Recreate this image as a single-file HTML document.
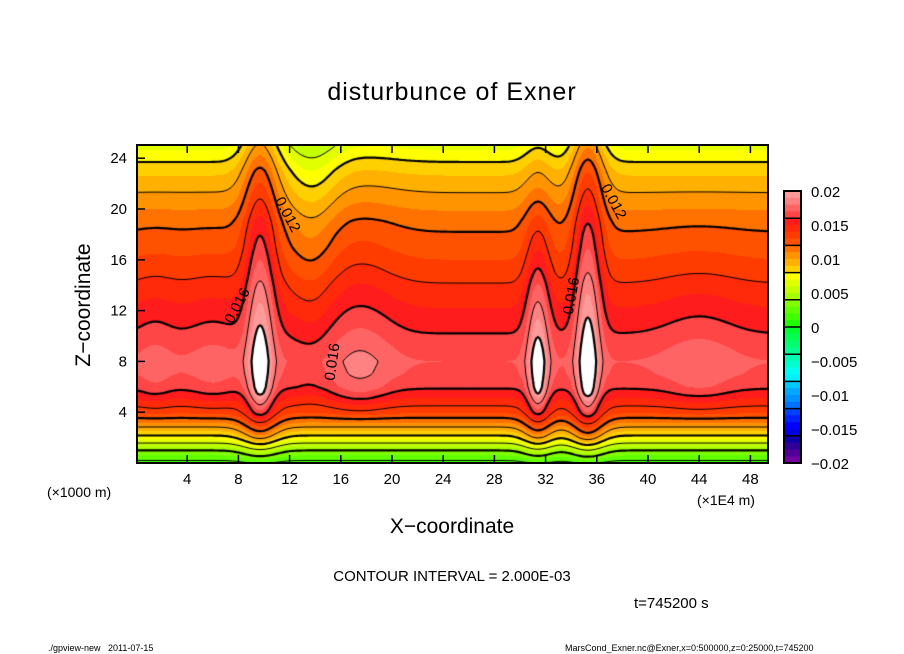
<!DOCTYPE html>
<html><head><meta charset="utf-8"><style>
body{margin:0;background:#fff;width:904px;height:654px;overflow:hidden;position:relative;font-family:"Liberation Sans","DejaVu Sans",sans-serif}
.t{position:absolute;white-space:nowrap;color:#000}
</style></head><body>
<div class="t" style="left:0;width:904px;text-align:center;top:78px;font-size:25px;letter-spacing:1px">disturbunce of Exner</div>
<canvas id="plot" width="632" height="318" style="position:absolute;left:137px;top:145px"></canvas>
<svg id="ov" width="904" height="654" style="position:absolute;left:0;top:0"></svg>
<div class="t" style="left:84px;top:305px;font-size:21px;transform:translate(-50%,-50%) rotate(-90deg)">Z−coordinate</div>
<div class="t" style="left:47px;top:484px;font-size:14px">(×1000 m)</div>
<div class="t" style="left:697px;top:492px;font-size:14px">(×1E4 m)</div>
<div class="t" style="left:0;width:904px;text-align:center;top:515px;font-size:21px">X−coordinate</div>
<div class="t" style="left:0;width:904px;text-align:center;top:568px;font-size:15px">CONTOUR INTERVAL = 2.000E-03</div>
<div class="t" style="left:634px;top:595px;font-size:15px">t=745200 s</div>
<div class="t" style="left:48px;top:643px;font-size:9px">./gpview-new &nbsp; 2011-07-15</div>
<div class="t" style="left:565px;top:643px;font-size:9px">MarsCond_Exner.nc@Exner,x=0:500000,z=0:25000,t=745200</div>
<script>
// vertical profile (z = 0..25)
const profile=[0.0015,0.004,0.0075,0.0105,0.0132,0.0148,0.0162,0.0168,0.017,0.0166,0.0161,0.0156,0.0151,0.0146,0.0141,0.0135,0.013,0.0125,0.0121,0.0116,0.0109,0.0102,0.0095,0.0087,0.0077,0.0066];
// localized features: x center, x width, amplitude low(z~8), amplitude high(z~22), bottom bump
const featX=[9.7,31.4,35.3,13.8,17.5,44,1.5,6];
const featW=[1.1,0.9,1.0,1.6,2.6,3,1.5,2];
const featAmpLow=[0.0045,0.0043,0.0048,-0.0004,0.0014,0.0009,0.0006,0.0006];
const featAmpHigh=[0.0036,0.0012,0.0042,-0.0018,0.0004,0,0,0];
const featBottomDip=[0.003,0.0028,0.0034,0,0,0,0,0];
const xTicks=[4,8,12,16,20,24,28,32,36,40,44,48];
const zTicks=[4,8,12,16,20,24];
const cbLabels=["0.02","0.015","0.01","0.005","0","−0.005","−0.01","−0.015","−0.02"];
const cbColors=["#ff9a9a","#ff8282","#ff6464","#ff4646","#ff1c1c","#ff2a0a","#ff3c00","#ff5200","#ff7200","#ff9400","#ffb000","#ffd000","#ffff00","#e2ff00","#c4ff00","#a4ff00","#80ff00","#60ff00","#40ff00","#20ff00","#00ff30","#00ff50","#00ff70","#00ff90","#00ffb0","#00ffd0","#00fff0","#00f0ff","#00c8ff","#00a8ff","#0090ff","#0070ff","#0040ff","#0020ff","#0000ff","#0000e0","#1000a8","#300098","#500098","#7000a0"];

const X0=136,XS=12.8,Y0=463,YS=12.7,PW=632,PH=318,PL=137,PT=145;
const sx=x=>X0+x*XS, sz=z=>Y0-z*YS;
function prof(z){z=Math.max(0,Math.min(25,z));const i=Math.min(24,Math.floor(z)),f=z-i;return profile[i]*(1-f)+profile[i+1]*f;}
function field(x,z){
  let v=prof(z);
  for(let k=0;k<featX.length;k++){
    const w=featW[k]*(0.75+0.025*z);
    const gx=Math.exp(-Math.pow((x-featX[k])/w,2));
    const t=Math.max(0,Math.min(1,(z-8)/14));
    let a=featAmpLow[k]*(1-t)+featAmpHigh[k]*t;
    const up=z<5.5?Math.max(0,(z-3)/2.5):1;
    v+=gx*a*up;
    v+=Math.exp(-Math.pow((x-featX[k])/(featW[k]*1.4),2))*featBottomDip[k]*Math.exp(-Math.pow((z-2.5)/2,2));
  }
  return v;
}
function colorFor(v){
  if(v>=0.02)return[255,255,255];
  let idx=Math.floor((0.02-v)/0.001);idx=Math.max(0,Math.min(39,idx));
  const h=cbColors[idx];return[parseInt(h.substr(1,2),16),parseInt(h.substr(3,2),16),parseInt(h.substr(5,2),16)];
}
const cv=document.getElementById('plot'),ctx=cv.getContext('2d');
const img=ctx.createImageData(PW,PH);
for(let py=0;py<PH;py++){for(let px=0;px<PW;px++){
  const x=(PL+px+0.5-X0)/XS,z=(Y0-(PT+py+0.5))/YS;
  const c=colorFor(field(x,z));const o=(py*PW+px)*4;
  img.data[o]=c[0];img.data[o+1]=c[1];img.data[o+2]=c[2];img.data[o+3]=255;}}
ctx.putImageData(img,0,0);
// contours (marching squares)
const G=2,nx=Math.ceil(PW/G)+1,ny=Math.ceil(PH/G)+1,F=[];
for(let j=0;j<ny;j++){F[j]=[];for(let i=0;i<nx;i++){F[j][i]=field((PL+i*G-X0)/XS,(Y0-(PT+j*G))/YS);}}
for(let L=-20;L<=20;L+=2){
  const lv=L*0.001;ctx.beginPath();
  for(let j=0;j<ny-1;j++)for(let i=0;i<nx-1;i++){
    const a=F[j][i],b=F[j][i+1],c=F[j+1][i+1],d=F[j+1][i];
    const pts=[];
    const e=(p,q,x1,y1,x2,y2)=>{if((p<lv)!==(q<lv)){const t=(lv-p)/(q-p);pts.push([x1+(x2-x1)*t,y1+(y2-y1)*t]);}};
    const x=i*G,y=j*G;
    e(a,b,x,y,x+G,y);e(b,c,x+G,y,x+G,y+G);e(d,c,x,y+G,x+G,y+G);e(a,d,x,y,x,y+G);
    for(let k=0;k+1<pts.length;k+=2){ctx.moveTo(pts[k][0],pts[k][1]);ctx.lineTo(pts[k+1][0],pts[k+1][1]);}
  }
  ctx.lineWidth=(L%4===0)?2.2:1;ctx.strokeStyle='#000';ctx.stroke();
}
// overlay
const NS='http://www.w3.org/2000/svg',ov=document.getElementById('ov');
function mk(tag,at,txt){const e=document.createElementNS(NS,tag);for(const k in at)e.setAttribute(k,at[k]);if(txt!==undefined)e.textContent=txt;ov.appendChild(e);return e;}
let r=mk('rect',{x:137,y:145,width:631,height:318,fill:'none',stroke:'#000','stroke-width':2});


xTicks.forEach(v=>{
  let l=mk('line',{x1:sx(v),x2:sx(v),y1:463,y2:455,stroke:'#000','stroke-width':1.5});
  
  
  let l2=mk('line',{x1:sx(v),x2:sx(v),y1:145,y2:153,stroke:'#000','stroke-width':1.5});
  
  
  let t=mk('text',{x:sx(v),y:484,'text-anchor':'middle','font-size':15,'font-family':'Liberation Sans, sans-serif'},String(v));
  
  
});
zTicks.forEach(v=>{
  let l=mk('line',{x1:137,x2:145,y1:sz(v),y2:sz(v),stroke:'#000','stroke-width':1.5});
  
  
  let t=mk('text',{x:127,y:sz(v)+5,'text-anchor':'end','font-size':15,'font-family':'Liberation Sans, sans-serif'},String(v));
  
  
});
// contour labels
[["0.012",287,215,62],["0.016",238,306,-62],["0.016",333,362,-82],["0.016",572,296,-80],["0.012",613,202,62]].forEach(a=>{
  let t=mk('text',{x:a[1],y:a[2],'text-anchor':'middle','dominant-baseline':'middle','font-size':15,'font-family':'Liberation Sans, sans-serif',transform:`rotate(${a[3]} ${a[1]} ${a[2]})`},a[0]);
  
  
});
// colorbar
const CT=191,CH=272,CX=784,CW=17,lh=CH/cbColors.length;
cbColors.forEach((c,i)=>{
  let b=mk('rect',{x:CX,y:CT+i*lh,width:CW,height:lh+0.5,fill:c});
  
  
});
for(let i=0;i<=10;i++){let l=mk('line',{x1:CX,x2:CX+CW,y1:CT+i*lh*4,y2:CT+i*lh*4,stroke:'#000','stroke-width':1.5});
  
  }
let cf=mk('rect',{x:CX,y:CT,width:CW,height:CH,fill:'none',stroke:'#000','stroke-width':2});


cbLabels.forEach((s,i)=>{
  let t=mk('text',{x:811,y:CT+6+i*CH/8,'font-size':15,'font-family':'Liberation Sans, sans-serif'},s);
  
  
});
</script>
</body></html>
